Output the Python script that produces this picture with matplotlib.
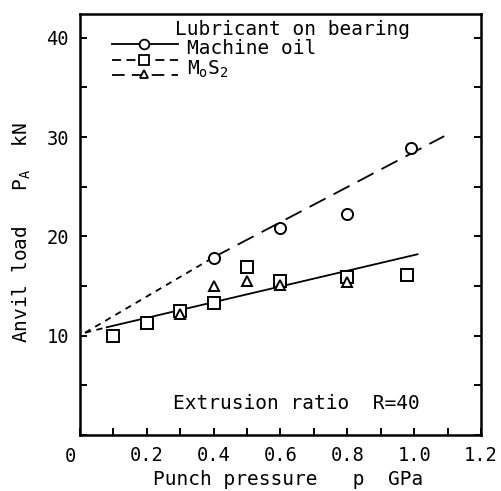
import matplotlib
matplotlib.use("Agg")
import matplotlib.pyplot as plt
from matplotlib.ticker import MultipleLocator, FixedLocator

plt.rcParams['font.family'] = ['DejaVu Sans Mono']
plt.rcParams['mathtext.fontset'] = 'custom'
plt.rcParams['mathtext.rm'] = 'DejaVu Sans Mono'
plt.rcParams['mathtext.it'] = 'DejaVu Sans Mono'

# Data
oil_p = [0.4, 0.6, 0.8, 0.99]
oil_load = [17.8, 20.8, 22.3, 28.9]

sq_p = [0.1, 0.2, 0.3, 0.4, 0.5, 0.6, 0.8, 0.98]
sq_load = [10.0, 11.3, 12.5, 13.3, 16.9, 15.5, 15.9, 16.1]

tri_p = [0.3, 0.4, 0.5, 0.6, 0.8]
tri_load = [12.2, 15.0, 15.5, 15.1, 15.4]

# fitted lines (end points)
oil_fit_p = [0.4, 1.09]
oil_fit_load = [17.9, 30.1]
oil_ext_p = [0.015, 0.4]
oil_ext_load = [10.3, 17.9]
mos_fit_p = [0.08, 1.01]
mos_fit_load = [10.85, 18.2]
mos_ext_p = [0.015, 0.08]
mos_ext_load = [10.3, 10.85]

x_ticks = [0.2, 0.4, 0.6, 0.8, 1.0, 1.2]
x_ticklabels = ['0.2', '0.4', '0.6', '0.8', '1.0', '1.2']
y_ticks = [10, 20, 30, 40]
y_ticklabels = ['10', '20', '30', '40']

FS = 14

fig = plt.figure(figsize=(5.02, 4.91), dpi=100)
ax = fig.add_axes([80/502, 56/491, 401/502, 421/491])

ax.set_xlim(0, 1.2)
ax.set_ylim(0, 42.4)

lw = 1.3
# lines
ax.plot(oil_fit_p, oil_fit_load, color='black', lw=lw, linestyle=(0, (10, 5)))
ax.plot(oil_ext_p, oil_ext_load, color='black', lw=lw, linestyle=(0, (3.5, 3)))
ax.plot(mos_fit_p, mos_fit_load, color='black', lw=lw, linestyle='-')
ax.plot(mos_ext_p, mos_ext_load, color='black', lw=lw, linestyle=(0, (3.5, 3)))

# markers
ax.plot(oil_p, oil_load, linestyle='none', marker='o', ms=8, mfc='white', mec='black', mew=1.4, zorder=5)
ax.plot(sq_p, sq_load, linestyle='none', marker='s', ms=8, mfc='white', mec='black', mew=1.4, zorder=5)
ax.plot(tri_p, tri_load, linestyle='none', marker='^', ms=7, mfc='white', mec='black', mew=1.4, zorder=6)

# ticks
ax.xaxis.set_major_locator(FixedLocator(x_ticks))
ax.set_xticklabels(x_ticklabels)
ax.xaxis.set_minor_locator(MultipleLocator(0.1))
ax.yaxis.set_major_locator(FixedLocator(y_ticks))
ax.set_yticklabels(y_ticklabels)
ax.yaxis.set_minor_locator(MultipleLocator(5))
ax.tick_params(which='both', direction='in', length=5, width=1.4, labelsize=13.5,
               right=True, top=False, pad=8)
for s in ax.spines.values():
    s.set_linewidth(1.8)

ax.annotate('0', xy=(0, 0), xycoords='data', xytext=(-7, -9), textcoords='offset points',
            ha='center', va='top', fontsize=13.5)

ax.set_xlabel('Punch pressure   p  GPa', fontsize=FS)
ax.xaxis.set_label_coords(0.52, -0.082)
ax.set_ylabel(r'Anvil load   $\mathrm{P_A}$  kN', fontsize=FS)
ax.yaxis.set_label_coords(-0.118, 0.48)

ax.text(0.278, 3.2, 'Extrusion ratio  R=40', fontsize=FS, va='center', ha='left')

# legend drawn manually
T = ax.transAxes
ax.text(0.237, 0.964, 'Lubricant on bearing', transform=T, fontsize=FS, va='center', ha='left')
ax.plot([0.08, 0.244], [0.929, 0.929], transform=T, color='black', lw=lw, clip_on=False)
ax.plot([0.16], [0.929], transform=T, marker='o', ms=7, mfc='white', mec='black', mew=1.3, clip_on=False)
ax.text(0.267, 0.918, 'Machine oil', transform=T, fontsize=FS, va='center', ha='left')
ax.plot([0.08, 0.244], [0.891, 0.891], transform=T, color='black', lw=lw, linestyle=(0, (5, 3)), clip_on=False)
ax.plot([0.16], [0.891], transform=T, marker='s', ms=7, mfc='white', mec='black', mew=1.3, clip_on=False)
ax.plot([0.08, 0.244], [0.855, 0.855], transform=T, color='black', lw=lw, linestyle=(0, (7, 4)), clip_on=False)
ax.plot([0.16], [0.857], transform=T, marker='^', ms=6, mfc='white', mec='black', mew=1.3, clip_on=False)
ax.text(0.267, 0.868, r'M$_\mathrm{o}$S$_2$', transform=T, fontsize=FS, va='center', ha='left')

fig.savefig('out.png', dpi=100)
